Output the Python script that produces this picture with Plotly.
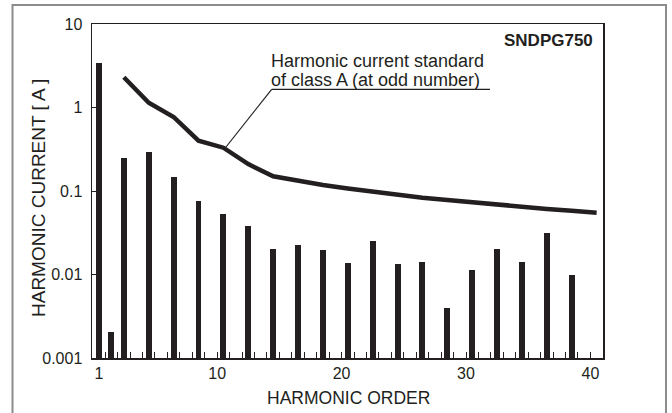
import plotly.graph_objects as go

# Measured harmonic currents (A)
bar_orders = [1, 2, 3, 5, 7, 9, 11, 13, 15, 17, 19, 21, 23, 25, 27, 29, 31, 33, 35, 37, 39]
bar_values = [3.44, 0.00206, 0.249, 0.291, 0.148, 0.0753, 0.0536, 0.0385, 0.0204, 0.0228,
              0.0199, 0.0139, 0.0254, 0.0134, 0.0140, 0.00396, 0.0112, 0.0204, 0.0140, 0.0314, 0.00986]

# Class A harmonic current standard (odd orders)
std_orders = [3, 5, 7, 9, 11, 13, 15, 17, 19, 21, 23, 25, 27, 29, 31, 33, 35, 37, 39, 41]
std_values = [2.30, 1.14, 0.77, 0.40, 0.33, 0.21, 0.15, 0.132, 0.118, 0.107, 0.098, 0.090,
              0.083, 0.078, 0.073, 0.068, 0.064, 0.061, 0.058, 0.055]

x_tickvals = [1, 10.5, 20.5, 30.5, 40.5]
x_ticktext = ["1", "10", "20", "30", "40"]
y_tickvals = [0.001, 0.01, 0.1, 1, 10]
y_ticktext = ["0.001", "0.01", "0.1", "1", "10"]

INK = "#231f20"
FONT = "Liberation Sans, Arial, Helvetica, sans-serif"

fig = go.Figure()
fig.add_trace(go.Bar(x=bar_orders, y=bar_values, width=0.48,
                     marker=dict(color=INK, line=dict(width=0)), showlegend=False,
                     hoverinfo="skip"))
fig.add_trace(go.Scatter(x=std_orders, y=std_values, mode="lines",
                         line=dict(color=INK, width=4.5), showlegend=False,
                         hoverinfo="skip"))

fig.update_layout(
    width=672, height=413,
    margin=dict(l=92, r=69, t=24, b=55),
    paper_bgcolor="white", plot_bgcolor="white",
    font=dict(family=FONT, color=INK, size=16),
    bargap=0,
)
fig.update_xaxes(
    range=[0.44, 41.51], tickvals=x_tickvals, ticktext=x_ticktext,
    ticks="inside", ticklen=6, tickwidth=1, tickcolor=INK,
    minor=dict(tick0=0.5, dtick=1, ticks="inside", ticklen=6, tickwidth=1, tickcolor=INK),
    showline=True, linecolor=INK, linewidth=1.5, mirror=True,
    showgrid=False, zeroline=False, tickfont=dict(size=16),
)
fig.update_yaxes(
    type="log", range=[-3, 1], tickvals=y_tickvals, ticktext=y_ticktext,
    ticks="inside", ticklen=5, tickwidth=1, tickcolor=INK,
    showline=True, linecolor=INK, linewidth=1.5, mirror=True,
    showgrid=False, zeroline=False, tickfont=dict(size=16), ticklabelstandoff=5,
)

def px(X):
    return (X - 92) / 511.0

def py(Y):
    return (358 - Y) / 334.0

annotations = [
    dict(text="<b>SNDPG750</b>", x=px(595), y=py(40), xanchor="right", yanchor="middle",
         font=dict(size=17)),
    dict(text="Harmonic current standard", x=px(269), y=py(61), xanchor="left", yanchor="middle",
         font=dict(size=18)),
    dict(text="of class A (at odd number)", x=px(269), y=py(80), xanchor="left", yanchor="middle",
         font=dict(size=18)),
    dict(text="HARMONIC CURRENT [ A ]", x=px(38), y=py(198), xanchor="center", yanchor="middle",
         textangle=-90, font=dict(size=19)),
    dict(text="HARMONIC ORDER", x=px(348), y=py(398), xanchor="center", yanchor="middle",
         font=dict(size=17.5)),
]
for a in annotations:
    a.update(xref="paper", yref="paper", showarrow=False)
fig.update_layout(annotations=annotations)

shapes = [
    # underline + leader of the standard label
    dict(type="line", x0=px(271.7), y0=py(89.3), x1=px(490), y1=py(89.3),
         line=dict(color=INK, width=1.2)),
    dict(type="line", x0=px(271.7), y0=py(89.3), x1=px(226), y1=py(147),
         line=dict(color=INK, width=1.2)),
    # outer frame
    dict(type="rect", x0=px(12.5), y0=py(5), x1=px(666), y1=py(440),
         line=dict(color="#8c8c8c", width=2)),
]
for s in shapes:
    s.update(xref="paper", yref="paper", layer="above")
fig.update_layout(shapes=shapes)

fig.write_html(
    "out.html",
    config={"displayModeBar": False, "staticPlot": True},
    post_script="document.body.style.margin='0';document.body.style.overflow='hidden';",
)
